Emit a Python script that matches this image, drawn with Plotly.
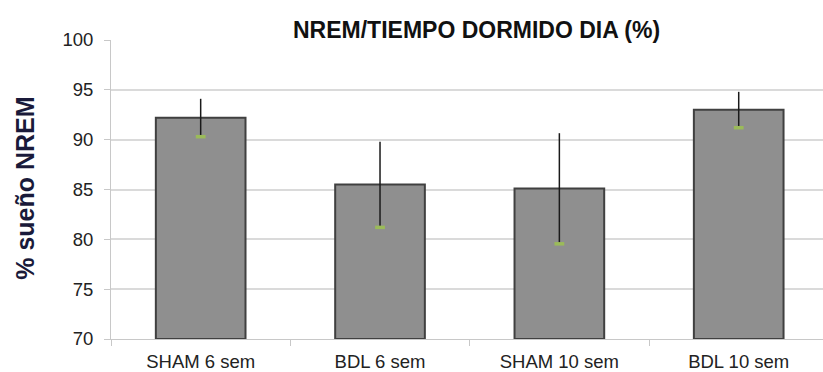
import plotly.graph_objects as go

# Sleep data: NREM share of daytime sleep (%)
groups = ["SHAM 6 sem", "BDL 6 sem", "SHAM 10 sem", "BDL 10 sem"]
nrem_mean = [92.2, 85.5, 85.1, 93.0]
nrem_sd = [1.9, 4.3, 5.55, 1.8]
y_ticks = [70, 75, 80, 85, 90, 95, 100]

AXIS_BASE = 70
lower_end = [m - s for m, s in zip(nrem_mean, nrem_sd)]

font_family = "Liberation Sans, Arial, sans-serif"

fig = go.Figure()

# bars start at the axis floor and end at the group mean
fig.add_trace(go.Bar(
    x=groups,
    y=[v - AXIS_BASE for v in nrem_mean],
    base=AXIS_BASE,
    marker=dict(color="#8F8F8F", line=dict(color="#404040", width=2)),
    error_y=dict(type="data", array=nrem_sd, arrayminus=nrem_sd,
                 visible=True, thickness=1.5, width=0, color="#1a1a1a"),
    hoverinfo="skip",
    showlegend=False,
))

# small markers at the lower end of each error bar
fig.add_trace(go.Scatter(
    x=groups,
    y=lower_end,
    mode="markers",
    marker=dict(symbol="line-ew", size=7,
                line=dict(color="#9BBB59", width=3.5)),
    hoverinfo="skip",
    showlegend=False,
))

fig.update_layout(
    width=823,
    height=372,
    margin=dict(l=111, r=0, t=40, b=33),
    paper_bgcolor="white",
    plot_bgcolor="white",
    bargap=0.5,
    font=dict(family=font_family, size=16, color="#222222"),
    xaxis=dict(
        range=[-0.5, 3.47],
        showline=True, linecolor="#C8C8C8", linewidth=1,
        ticks="outside", tickson="boundaries", ticklen=6, tickcolor="#C8C8C8",
        tickfont=dict(size=18.5, color="#222222"),
        ticklabelstandoff=6,
        showgrid=False,
    ),
    yaxis=dict(
        range=[70, 100],
        tickvals=y_ticks,
        showline=True, linecolor="#C8C8C8", linewidth=1,
        ticks="outside", ticklen=6, tickcolor="#C8C8C8",
        tickfont=dict(size=18.5, color="#222222"),
        ticklabelstandoff=7,
        showgrid=True, gridcolor="#DADADA", gridwidth=1.5,
        zeroline=False,
    ),
    annotations=[
        dict(text="<b>NREM/TIEMPO DORMIDO DIA (%)</b>",
             xref="paper", yref="paper", x=0.514, y=1.033,
             xanchor="center", yanchor="middle", showarrow=False,
             font=dict(size=23, color="#111111", family=font_family)),
        dict(text="<b>% sueño NREM</b>",
             xref="paper", yref="paper", x=-0.122, y=0.503,
             xanchor="center", yanchor="middle", showarrow=False,
             textangle=-90,
             font=dict(size=25, color="#1a1a3a", family=font_family)),
    ],
)

fig.write_html("out.html")
